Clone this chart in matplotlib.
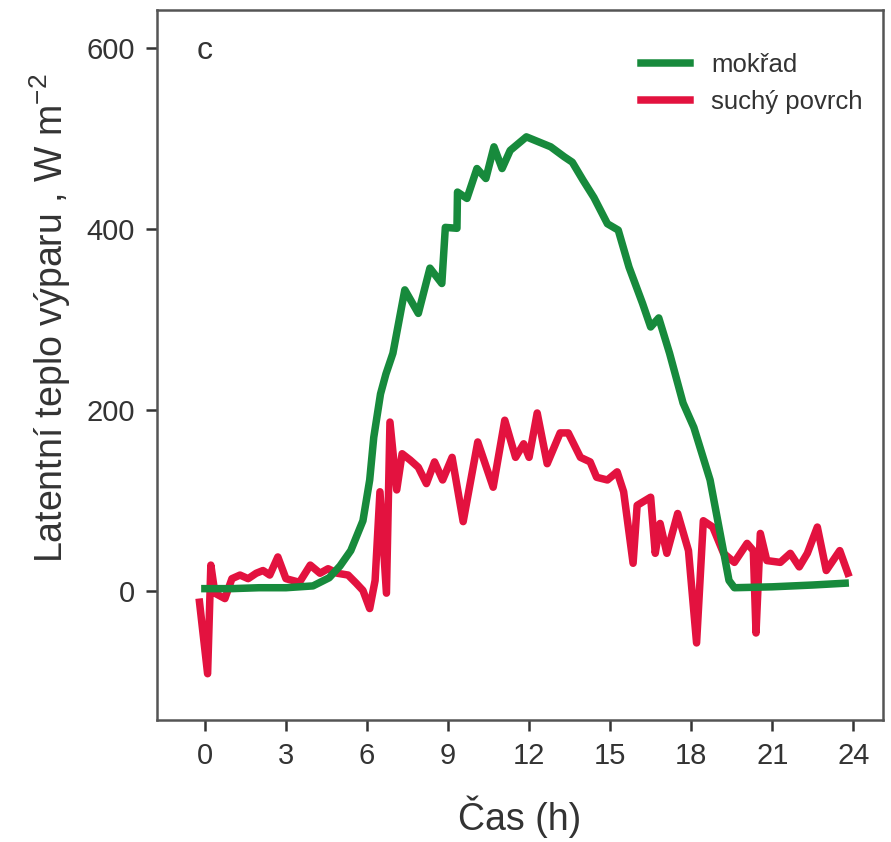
import matplotlib
matplotlib.use("Agg")
import matplotlib.pyplot as plt

# Data - mokřad (hodiny, W m-2)
cas_mokrad = [0, 1, 2, 3, 4.0, 4.6, 5.0, 5.4, 5.85, 6.1, 6.25, 6.5, 6.7, 6.96, 7.4,
              7.9, 8.33, 8.77, 8.9, 9.33, 9.35, 9.7, 10.07, 10.4, 10.7, 11.0, 11.3,
              11.9, 12.8, 13.3, 13.6, 14.0, 14.4, 14.9, 15.3, 15.7, 16.2, 16.5,
              16.8, 17.2, 17.7, 18.1, 18.7, 19.4, 19.6, 21, 22.5, 23.7]
lv_mokrad = [3, 3, 4, 4, 6, 15, 28, 45, 78, 123, 170, 218, 240, 263, 333,
             307, 357, 340, 402, 401, 441, 434, 467, 456, 491, 467, 487,
             502, 491, 480, 474, 454, 435, 406, 399, 358, 318, 292,
             302, 263, 208, 181, 123, 12, 4, 5, 7, 9]

# Data - suchý povrch
cas_sucho = [-0.2, 0.1, 0.22, 0.37, 0.74, 1.0, 1.3, 1.6, 1.9, 2.15, 2.4, 2.7, 3.0,
             3.5, 3.9, 4.26, 4.56, 4.9, 5.3, 5.6, 5.85, 6.1, 6.3, 6.48, 6.72, 6.85,
             7.1, 7.3, 7.6, 7.9, 8.2, 8.5, 8.8, 9.15, 9.56, 10.1, 10.67, 11.1, 11.5,
             11.8, 12.0, 12.3, 12.67, 13.15, 13.45, 13.9, 14.26, 14.5, 14.9, 15.26,
             15.5, 15.85, 16.0, 16.5, 16.67, 16.85, 17.1, 17.5, 17.9, 18.2, 18.45,
             18.8, 19.2, 19.6, 20.07, 20.3, 20.4, 20.56, 20.8, 21.3, 21.67, 22.0,
             22.3, 22.67, 23.0, 23.5, 23.8]
lv_sucho = [-12, -91, 29, -2, -8, 14, 18, 14, 20, 23, 18, 38, 14,
            10, 29, 20, 25, 20, 18, 9, 1, -19, 12, 110, -2, 187,
            112, 152, 145, 137, 119, 143, 123, 148, 77, 165, 115, 189, 148,
            163, 148, 197, 141, 175, 175, 148, 143, 126, 123, 132,
            110, 31, 95, 104, 42, 75, 42, 86, 45, -57, 78,
            71, 42, 32, 53, 45, -46, 64, 34, 32, 42, 27,
            42, 71, 23, 45, 20]

x_ticks = [0, 3, 6, 9, 12, 15, 18, 21, 24]
y_ticks = [0, 200, 400, 600]

plt.rcParams['font.family'] = ['Liberation Sans', 'DejaVu Sans']
plt.rcParams['mathtext.fontset'] = 'custom'
plt.rcParams['mathtext.rm'] = 'Liberation Sans'

fig = plt.figure(figsize=(8.91, 8.42), dpi=100)
ax = fig.add_axes([0.176, 0.145, 0.815, 0.843])

# Čáry
ax.plot(cas_sucho, lv_sucho, color='#e3123f', lw=5.4, label='suchý povrch')
ax.plot(cas_mokrad, lv_mokrad, color='#178a3c', lw=5.4, label='mokřad')

ax.set_xlim(-1.78, 25.1)
ax.set_ylim(-142, 642)
ax.set_xticks(x_ticks)
ax.set_yticks(y_ticks)
ax.tick_params(direction='out', length=8, width=1.8, labelsize=21,
               colors='#333333', pad=8)
for s in ax.spines.values():
    s.set_color('#555555')
    s.set_linewidth(1.8)

ax.set_xlabel('Čas (h)', fontsize=27, color='#333333', labelpad=18)
ax.set_ylabel('Latentní teplo výparu , W m$^{\\mathrm{-2}}$', fontsize=27,
              color='#333333')
ax.yaxis.set_label_coords(-0.116, 0.566)

ax.text(0.066, 0.943, 'c', transform=ax.transAxes, fontsize=23,
        color='#333333', ha='center', va='center')

# Legenda - mokřad nahoře
h, l = ax.get_legend_handles_labels()
ax.legend(h[::-1], l[::-1], loc='upper right', bbox_to_anchor=(1.007, 0.976),
          frameon=False, fontsize=18.5, handlelength=1.9, borderaxespad=0.6,
          labelspacing=0.5, labelcolor='#333333')

fig.savefig('out.png', dpi=100)
